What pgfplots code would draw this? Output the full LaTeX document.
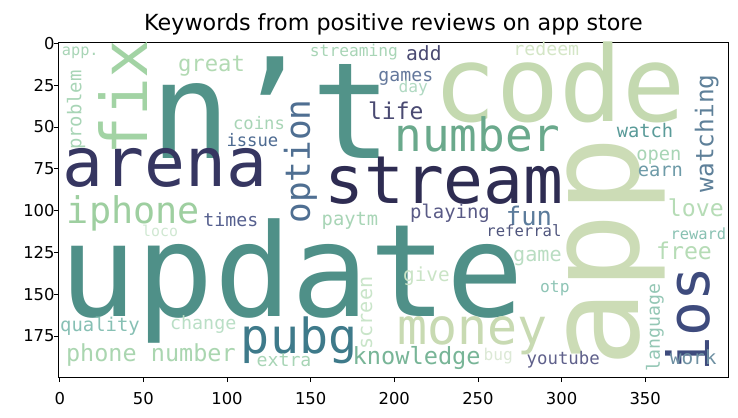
\documentclass[border=0pt]{standalone}
\usepackage{pgfplots}
\pgfplotsset{compat=1.18}
\usepackage{pgfplotstable}
\usepackage{fontspec}
\setmainfont{DejaVu Sans}
\newfontfamily\wcfont{DejaVu Sans Mono}

\definecolor{c01}{HTML}{529389}
\definecolor{c02}{HTML}{4F9088}
\definecolor{c03}{HTML}{C4D9B0}
\definecolor{c04}{HTML}{CCDCB6}
\definecolor{c05}{HTML}{363661}
\definecolor{c06}{HTML}{2E2C52}
\definecolor{c07}{HTML}{A2D3A4}
\definecolor{c08}{HTML}{6AA98C}
\definecolor{c09}{HTML}{C8DAB2}
\definecolor{c10}{HTML}{3E7A8A}
\definecolor{c11}{HTML}{3E4B7D}
\definecolor{c12}{HTML}{9ECFA0}
\definecolor{c13}{HTML}{4F6F92}
\definecolor{c14}{HTML}{5E8099}
\definecolor{c15}{HTML}{B2DAB3}
\definecolor{c16}{HTML}{78B597}
\definecolor{c17}{HTML}{AAD6B0}
\definecolor{c18}{HTML}{4A4A72}
\definecolor{c19}{HTML}{B6DCB6}
\definecolor{c20}{HTML}{5B7B9B}
\definecolor{c21}{HTML}{A8D5B6}
\definecolor{c22}{HTML}{D4E6C6}
\definecolor{c23}{HTML}{64789C}
\definecolor{c24}{HTML}{B0D9C2}
\definecolor{c25}{HTML}{4D6A91}
\definecolor{c26}{HTML}{5A9B99}
\definecolor{c27}{HTML}{6E9BA8}
\definecolor{c28}{HTML}{56608F}
\definecolor{c29}{HTML}{595A86}
\definecolor{c30}{HTML}{50567E}
\definecolor{c31}{HTML}{88C1B2}
\definecolor{c32}{HTML}{D0E8D2}
\definecolor{c33}{HTML}{B9DDC2}
\definecolor{c34}{HTML}{CAE4C6}
\definecolor{c35}{HTML}{8FC5B6}
\definecolor{c36}{HTML}{94C7B5}
\definecolor{c37}{HTML}{C9E5C9}
\definecolor{c38}{HTML}{87C0B4}
\definecolor{c39}{HTML}{BADFC6}
\definecolor{c40}{HTML}{DCE9D6}
\definecolor{c41}{HTML}{5F608B}
\definecolor{c42}{HTML}{6E90A2}

% x = centre (or baseline if r=90), y = baseline (or centre if r=90), s = font size in pt
\pgfplotstableread{
x y s r w
126.3 68.6 96.4 0 {\color{c01}n’t}
138.6 163.4 92.7 0 {\color{c02}update}
298.7 46.9 75.5 0 {\color{c03}code}
345.7 124.7 92.1 90 {\color{c04}app}
62.9 85.7 49.0 0 {\color{c05}arena}
229.7 95.6 47.7 0 {\color{c06}stream}
52.2 32.4 46.4 90 {\color{c07}fix}
249.7 64.8 33.1 0 {\color{c08}number}
246.7 180.3 35.9 0 {\color{c09}money}
143.1 185.3 34.8 0 {\color{c10}pubg}
388.7 164.8 41.7 90 {\color{c11}ios}
44.0 107.6 26.5 0 {\color{c12}iphone}
149.6 70.6 24.7 90 {\color{c13}option}
390.8 53.8 17.6 90 {\color{c14}watching}
90.7 17.0 16.0 0 {\color{c15}great}
213.4 191.7 17.0 0 {\color{c16}knowledge}
54.5 190.3 16.9 0 {\color{c17}phone number}
200.9 45.8 16.6 0 {\color{c18}life}
380.3 103.6 16.7 0 {\color{c19}love}
373.2 129.5 16.7 0 {\color{c19}free}
280.5 108.6 18.4 0 {\color{c20}fun}
175.9 7.6 11.7 0 {\color{c21}streaming}
217.7 10.4 14.1 0 {\color{c18}add}
290.9 7.0 13.1 0 {\color{c22}redeem}
206.9 22.9 13.1 0 {\color{c23}games}
211.3 29.5 11.7 0 {\color{c24}day}
13.0 39.9 13.6 90 {\color{c21}problem}
12.3 7.0 11.0 0 {\color{c21}app.}
119.1 51.8 12.4 0 {\color{c21}coins}
115.2 61.4 12.4 0 {\color{c25}issue}
349.9 56.2 13.5 0 {\color{c26}watch}
358.2 69.8 13.5 0 {\color{c21}open}
359.1 79.7 13.5 0 {\color{c27}earn}
102.3 109.6 13.1 0 {\color{c28}times}
173.5 108.6 13.5 0 {\color{c21}paytm}
233.3 104.6 13.6 0 {\color{c29}playing}
277.5 115.6 11.2 0 {\color{c30}referral}
381.8 117.2 11.1 0 {\color{c31}reward}
60.0 115.6 10.7 0 {\color{c32}loco}
285.6 130.5 14.5 0 {\color{c33}game}
219.2 142.5 13.9 0 {\color{c34}give}
296.0 149.1 11.7 0 {\color{c35}otp}
358.8 169.9 13.1 90 {\color{c36}language}
186.7 161.2 14.5 90 {\color{c37}screen}
24.1 172.0 13.6 0 {\color{c38}quality}
85.8 171.0 13.2 0 {\color{c39}change}
134.1 193.3 13.1 0 {\color{c21}extra}
262.2 189.3 11.7 0 {\color{c40}bug}
301.0 191.7 12.5 0 {\color{c41}youtube}
378.7 191.7 14.0 0 {\color{c42}work}
}\words

\begin{document}
\begin{tikzpicture}
\begin{axis}[
  name=ax,
  scale only axis,
  width=481.8pt, height=240.9pt,
  xmin=-0.5, xmax=399.5, ymin=-0.5, ymax=199.5,
  y dir=reverse,
  axis background/.style={fill=white},
  xtick={0,50,...,350}, ytick={0,25,...,175},
  tick align=outside, tick pos=left,
  major tick length=3.6pt,
  every tick/.style={black, line width=0.6pt},
  axis line style={line width=0.6pt},
  /pgf/number format/assume math mode=true,
  ticklabel style={font=\fontsize{11.8}{13}\selectfont},
  xticklabel style={yshift=-4pt},
  yticklabel style={xshift=4pt},
  title={Keywords from positive reviews on app store},
  title style={yshift=3pt, anchor=base, font=\fontsize{16}{19}\selectfont},
  clip=true,
]
\addplot[only marks, mark=none,
  nodes near coords, point meta=explicit symbolic,
  visualization depends on={\thisrow{s}\as\ws},
  visualization depends on={\thisrow{r}\as\wr},
  every node near coord/.style={anchor=base, inner sep=0pt, rotate=\wr,
     font={\wcfont\fontsize{\ws}{\ws}\selectfont}},
] table[x=x, y=y, meta=w] {\words};
\end{axis}
\path[use as bounding box] ([xshift=-42.4pt, yshift=-29.4pt]ax.south west) rectangle ([xshift=7.2pt, yshift=30.6pt]ax.north east);
\end{tikzpicture}
\end{document}
